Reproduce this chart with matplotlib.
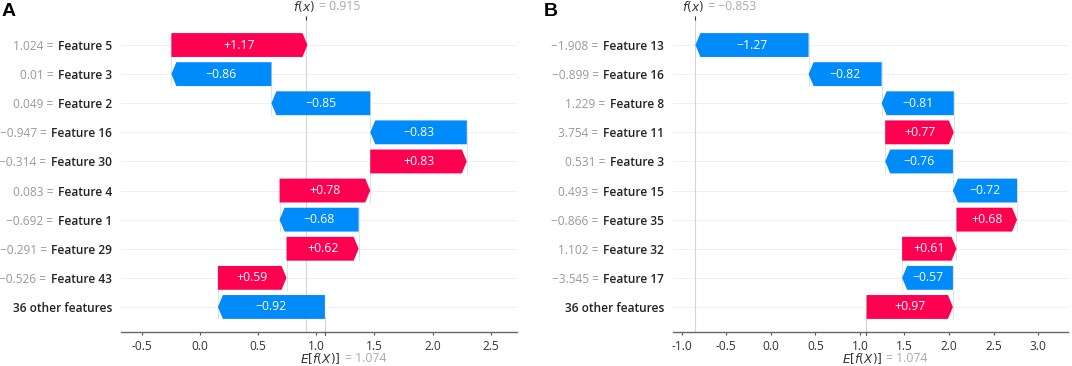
import matplotlib
matplotlib.use("Agg")
import matplotlib.pyplot as plt
import numpy as np

plt.rcParams['font.family'] = ['Open Sans', 'DejaVu Sans']
plt.rcParams['axes.unicode_minus'] = False

# ---------------- data ----------------
a_names = ["Feature 5", "Feature 3", "Feature 2", "Feature 16", "Feature 30",
           "Feature 4", "Feature 1", "Feature 29", "Feature 43", "36 other features"]
a_feature_values = ["1.024", "0.01", "0.049", "\u22120.947", "\u22120.314",
                    "0.083", "\u22120.692", "\u22120.291", "\u22120.526", ""]
a_shap = [1.17, -0.86, -0.85, -0.83, 0.83, 0.78, -0.68, 0.62, 0.59, -0.92]
a_base = 1.074
a_fx = 0.915
a_ticks = [-0.5, 0.0, 0.5, 1.0, 1.5, 2.0, 2.5]

b_names = ["Feature 13", "Feature 16", "Feature 8", "Feature 11", "Feature 3",
           "Feature 15", "Feature 35", "Feature 32", "Feature 17", "36 other features"]
b_feature_values = ["\u22121.908", "\u22120.899", "1.229", "3.754", "0.531",
                    "0.493", "\u22120.866", "1.102", "\u22123.545", ""]
b_shap = [-1.27, -0.82, -0.81, 0.77, -0.76, -0.72, 0.68, 0.61, -0.57, 0.97]
b_base = 1.074
b_fx = -0.853
b_ticks = [-1.0, -0.5, 0.0, 0.5, 1.0, 1.5, 2.0, 2.5, 3.0]

RED = "#ff0051"
BLUE = "#008bfb"

W, H = 1072, 366
fig = plt.figure(figsize=(W / 100, H / 100), dpi=100)


def fmt(v):
    s = "%+.2f" % v
    return s.replace("-", "\u2212")


def waterfall(rect, names, fvals, shap, base, fx, xlim, ticks):
    ax = fig.add_axes(rect)
    n = len(names)
    ypos = np.arange(n)[::-1]  # top row first
    ax.set_xlim(*xlim)
    ax.set_ylim(-0.86, n - 1 + 0.86)
    xr = xlim[1] - xlim[0]
    axw_px = rect[2] * W
    hl = 5.0 / axw_px * xr

    # cumulative starts (from the bottom row, which begins at base value)
    starts = [base + sum(shap[i + 1:]) for i in range(n)]

    # row guide lines
    for y in ypos:
        ax.axhline(y, color="#eeeeee", lw=0.6, zorder=-2)

    # connector lines
    for i in range(1, n):
        loc = starts[i - 1]
        ax.plot([loc, loc], [ypos[i] - 0.4, ypos[i - 1] + 0.4],
                color="#dddddd", lw=0.6, zorder=-1)

    # f(x) and E[f(X)] lines
    ax.axvline(fx, 0, 1, color="#d5d5d5", lw=0.8, zorder=-1)
    ax.axvline(base, 0, 0.5 / (n + 0.72), color="#d5d5d5", lw=0.8, zorder=-1)

    for i in range(n):
        c = RED if shap[i] > 0 else BLUE
        ax.arrow(starts[i], ypos[i], shap[i], 0, width=0.82, head_width=0.82,
                 head_length=min(hl, abs(shap[i])), length_includes_head=True,
                 color=c, lw=0, zorder=2)
        ax.text(starts[i] + shap[i] / 2, ypos[i], fmt(shap[i]), color="white",
                ha="center", va="center", fontsize=8.8, zorder=3)

    ax.set_yticks(ypos)
    ax.set_yticklabels(names, fontsize=8.6, color="#222222", fontweight="semibold")
    ax.tick_params(axis="y", length=0, pad=6.3)
    for lab, fv in zip(ax.get_yticklabels(), fvals):
        if fv:
            ax.annotate(fv + " =", xy=(0, 0.5), xycoords=lab, xytext=(-3.5, 0),
                        textcoords="offset points", ha="right", va="center",
                        fontsize=8.6, color="#999999")

    ax.set_xticks(ticks)
    ax.set_xticklabels(["%.1f" % t for t in ticks])
    ax.tick_params(axis="x", length=2.5, width=0.8, color="#555555",
                   labelsize=8.6, labelcolor="#333333", pad=3)
    for s in ["top", "right", "left"]:
        ax.spines[s].set_visible(False)
    ax.spines["bottom"].set_color("#666666")
    ax.spines["bottom"].set_linewidth(1.0)

    # secondary tick for f(x) on top
    ax2 = ax.twiny()
    ax2.set_xlim(*xlim)
    ax2.set_xticks([fx])
    ax2.set_xticklabels([""])
    ax2.tick_params(axis="x", length=3, width=0.8, color="#333333")
    for s in ax2.spines.values():
        s.set_visible(False)

    trans = ax.get_xaxis_transform()
    ax.annotate("$f(x)$", xy=(fx, 1), xycoords=trans, xytext=(6.5, 9.4),
                textcoords="offset points", ha="right", va="center",
                fontsize=8.8, color="#333333")
    ax.annotate("= " + ("%.3f" % fx).replace("-", "\u2212"), xy=(fx, 1), xycoords=trans,
                xytext=(9.4, 9.4), textcoords="offset points", ha="left",
                va="center", fontsize=8.8, color="#aaaaaa")
    ax.plot([base, base], [-0.86, -0.86 - 0.1], color="#555555", lw=0.8,
            clip_on=False, transform=ax.transData)
    ax.annotate("$E[f(X)]$", xy=(base, 0), xycoords=trans, xytext=(11.5, -19.4),
                textcoords="offset points", ha="right", va="center",
                fontsize=8.8, color="#333333")
    ax.annotate("= %.3f" % base, xy=(base, 0), xycoords=trans, xytext=(14.4, -19.4),
                textcoords="offset points", ha="left", va="center",
                fontsize=8.8, color="#aaaaaa")
    return ax


bottom = 1 - 332 / H
top = 1 - 20 / H
axA = waterfall([121 / W, bottom, (517 - 121) / W, top - bottom], a_names,
                a_feature_values, a_shap, a_base, a_fx,
                ((121 - 200) / 116.3, (517 - 200) / 116.3), a_ticks)
axB = waterfall([673 / W, bottom, (1068 - 673) / W, top - bottom], b_names,
                b_feature_values, b_shap, b_base, b_fx,
                ((673 - 770.8) / 89.1, (1068 - 770.8) / 89.1), b_ticks)

fig.text(2 / W, 1 - 11 / H, "A", fontsize=14, fontweight="bold",
         family="Liberation Sans", va="center", ha="left")
fig.text(544 / W, 1 - 11 / H, "B", fontsize=14, fontweight="bold",
         family="Liberation Sans", va="center", ha="left")

fig.savefig("out.png", dpi=100)
